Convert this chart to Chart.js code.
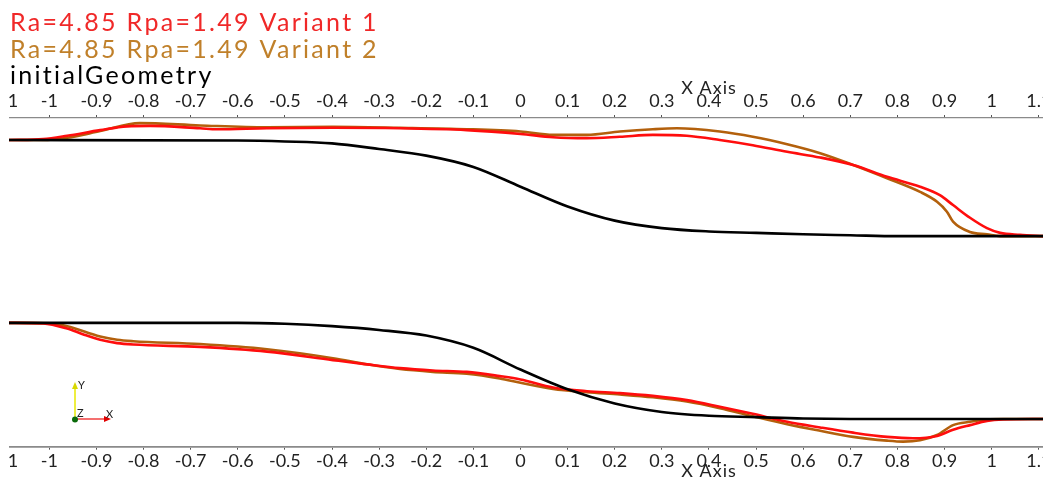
<!DOCTYPE html>
<html>
<head>
<meta charset="utf-8">
<script src="https://cdn.jsdelivr.net/npm/chart.js@4.4.1/dist/chart.umd.min.js"></script>
<style>
  html, body { margin: 0; padding: 0; background: #fff; overflow: hidden; }
  #wrap { position: absolute; left: 9px; top: 0; width: 1034px; height: 485px; }
</style>
</head>
<body>
<div id="wrap"><canvas id="c"></canvas></div>
<script>
// Axis ticks along the channel
const tickValues = [-1.1, -1, -0.9, -0.8, -0.7, -0.6, -0.5, -0.4, -0.3, -0.2, -0.1, 0,
                    0.1, 0.2, 0.3, 0.4, 0.5, 0.6, 0.7, 0.8, 0.9, 1, 1.1];
const tickLabels = ['-1.1', '-1', '-0.9', '-0.8', '-0.7', '-0.6', '-0.5', '-0.4', '-0.3', '-0.2', '-0.1', '0',
                    '0.1', '0.2', '0.3', '0.4', '0.5', '0.6', '0.7', '0.8', '0.9', '1', '1.1'];
const xLimits = [-1.0855, 1.1089];
const yLimits = [-0.0588, 0.6388];

const seriesNames = ['Ra=4.85 Rpa=1.49 Variant 1', 'Ra=4.85 Rpa=1.49 Variant 2', 'initialGeometry'];

// Wall profiles: [x, y]
const initialUpper = [[-1.086,0.592],[-0.6,0.591],[-0.5,0.589],[-0.4,0.585],[-0.3,0.573],[-0.2,0.559],
  [-0.1,0.535],[0,0.493],[0.1,0.451],[0.2,0.421],[0.3,0.405],[0.4,0.398],[0.5,0.395],[0.6,0.392],
  [0.7,0.390],[0.8,0.388],[1.109,0.388]];
const initialLower = [[-1.086,0.204],[-0.6,0.204],[-0.5,0.202],[-0.4,0.197],[-0.3,0.189],[-0.2,0.177],
  [-0.1,0.151],[0,0.105],[0.1,0.063],[0.2,0.033],[0.3,0.015],[0.4,0.007],[0.5,0.004],[0.6,0.001],
  [0.7,0],[1.109,0]];

const variant1Upper = [[-1.086,0.592],[-1.013,0.594],[-0.962,0.601],[-0.892,0.613],[-0.835,0.621],
  [-0.786,0.622],[-0.680,0.617],[-0.644,0.615],[-0.538,0.617],[-0.398,0.618],[-0.256,0.617],
  [-0.114,0.613],[0,0.605],[0.069,0.598],[0.141,0.596],[0.211,0.599],[0.281,0.603],[0.353,0.601],
  [0.423,0.592],[0.493,0.581],[0.566,0.567],[0.636,0.555],[0.706,0.539],[0.778,0.514],[0.848,0.493],
  [0.890,0.475],[0.918,0.454],[0.954,0.427],[0.990,0.405],[1.018,0.395],[1.060,0.391],[1.109,0.388]];
const variant1Lower = [[-1.086,0.204],[-1.013,0.203],[-0.962,0.192],[-0.929,0.180],[-0.892,0.168],
  [-0.856,0.161],[-0.822,0.158],[-0.680,0.153],[-0.538,0.143],[-0.398,0.125],[-0.326,0.116],
  [-0.256,0.108],[-0.186,0.103],[-0.114,0.100],[-0.044,0.091],[0,0.084],[0.069,0.067],[0.141,0.059],
  [0.211,0.055],[0.281,0.049],[0.353,0.040],[0.423,0.026],[0.493,0.011],[0.566,-0.006],[0.636,-0.018],
  [0.706,-0.029],[0.778,-0.038],[0.833,-0.041],[0.884,-0.036],[0.918,-0.023],[0.954,-0.013],
  [0.990,-0.004],[1.024,-0.001],[1.109,0]];

const variant2Upper = [[-1.086,0.592],[-1.013,0.592],[-0.962,0.597],[-0.892,0.611],[-0.808,0.628],
  [-0.680,0.623],[-0.538,0.619],[-0.398,0.620],[-0.256,0.618],[-0.114,0.615],[0,0.610],[0.069,0.603],
  [0.141,0.603],[0.211,0.610],[0.281,0.615],[0.332,0.617],[0.423,0.610],[0.493,0.599],[0.566,0.583],
  [0.636,0.564],[0.706,0.539],[0.778,0.511],[0.848,0.482],[0.884,0.461],[0.905,0.440],[0.918,0.419],
  [0.954,0.397],[0.990,0.392],[1.018,0.388],[1.109,0.388]];
const variant2Lower = [[-1.086,0.204],[-0.998,0.203],[-0.962,0.197],[-0.892,0.175],[-0.856,0.168],
  [-0.822,0.165],[-0.680,0.159],[-0.538,0.148],[-0.398,0.129],[-0.326,0.116],[-0.256,0.106],
  [-0.186,0.100],[-0.114,0.096],[-0.044,0.086],[0,0.077],[0.069,0.064],[0.141,0.057],[0.211,0.052],
  [0.281,0.046],[0.353,0.037],[0.423,0.023],[0.493,0.006],[0.566,-0.011],[0.636,-0.025],[0.706,-0.038],
  [0.778,-0.046],[0.812,-0.048],[0.848,-0.045],[0.884,-0.034],[0.918,-0.013],[0.954,-0.006],
  [0.990,-0.001],[1.024,0],[1.109,0]];

const lineColors = ['#ff0d0d', '#b3600c', '#000000'];
const textColors = ['#f02828', '#c0802a', '#000000'];

function wall(points, color) {
  return {
    data: points.map(([x, y]) => ({ x, y })),
    borderColor: color,
    borderWidth: 2.6,
    pointRadius: 0,
    fill: false,
    showLine: true,
    cubicInterpolationMode: 'monotone',
    xAxisID: 'xBottom',
    yAxisID: 'y'
  };
}

function setTicks(scale) {
  scale.ticks = tickValues.map(v => ({ value: v }));
}

function axis(position, height, pad, borderWidth) {
  return {
    type: 'linear',
    position,
    min: xLimits[0],
    max: xLimits[1],
    afterBuildTicks: setTicks,
    afterFit(scale) {
      scale.height = height;
      scale.paddingLeft = 0;
      scale.paddingRight = 0;
    },
    ticks: {
      autoSkip: false,
      maxRotation: 0,
      minRotation: 0,
      padding: pad,
      color: '#222',
      font: { family: 'Lato', size: 18, lineHeight: 1 },
      callback: (v, i) => tickLabels[i]
    },
    grid: { display: true, drawOnChartArea: false, drawTicks: true, tickLength: 3, color: '#555' },
    border: { display: true, color: '#8a8a8a', width: borderWidth }
  };
}

// Legend text, axis titles and the orientation triad
const overlay = {
  id: 'overlay',
  afterDraw(chart) {
    const ctx = chart.ctx;
    ctx.save();
    ctx.font = '25px Lato';
    ctx.letterSpacing = '2.3px';
    ctx.textAlign = 'left';
    ctx.textBaseline = 'alphabetic';
    const baselines = [31, 58, 84];
    seriesNames.forEach((name, i) => {
      ctx.fillStyle = textColors[i];
      ctx.fillText(name, 1, baselines[i]);
    });

    ctx.font = '18px Lato';
    ctx.letterSpacing = '1px';
    ctx.fillStyle = '#222';
    ctx.textAlign = 'center';
    ctx.textBaseline = 'middle';
    ctx.fillText('X Axis', 700, 88);
    ctx.fillText('X Axis', 700, 471);

    ctx.letterSpacing = '0px';
    const ox = 66, oy = 419;
    ctx.lineWidth = 1.5;
    ctx.strokeStyle = '#e8e800';
    ctx.beginPath(); ctx.moveTo(ox, oy); ctx.lineTo(ox, 386); ctx.stroke();
    ctx.fillStyle = '#d8d800';
    ctx.beginPath(); ctx.moveTo(ox - 3, 389); ctx.lineTo(ox + 3, 389); ctx.lineTo(ox, 382); ctx.closePath(); ctx.fill();
    ctx.strokeStyle = '#f04040';
    ctx.beginPath(); ctx.moveTo(ox, oy); ctx.lineTo(98, oy); ctx.stroke();
    ctx.fillStyle = '#e00000';
    ctx.beginPath(); ctx.moveTo(95, oy - 3); ctx.lineTo(95, oy + 3); ctx.lineTo(102, oy); ctx.closePath(); ctx.fill();
    ctx.fillStyle = '#0a6a0a';
    ctx.beginPath(); ctx.arc(ox, oy + 0.5, 3, 0, Math.PI * 2); ctx.fill();
    ctx.font = '11px Lato';
    ctx.fillStyle = '#222';
    ctx.textAlign = 'left';
    ctx.textBaseline = 'alphabetic';
    ctx.fillText('Y', 69, 389);
    ctx.fillText('Z', 68, 417);
    ctx.fillText('X', 97, 418);
    ctx.restore();
  }
};

new Chart(document.getElementById('c'), {
  type: 'scatter',
  data: {
    datasets: [
      wall(initialUpper, lineColors[2]),
      wall(initialLower, lineColors[2]),
      wall(variant1Upper, lineColors[0]),
      wall(variant1Lower, lineColors[0]),
      wall(variant2Upper, lineColors[1]),
      wall(variant2Lower, lineColors[1])
    ]
  },
  options: {
    responsive: true,
    maintainAspectRatio: false,
    animation: false,
    layout: { padding: 0 },
    plugins: { legend: { display: false }, tooltip: { enabled: false } },
    scales: {
      xTop: axis('top', 118, 4.5, 1.2),
      xBottom: axis('bottom', 38.3, 2.5, 1.8),
      y: { type: 'linear', display: false, min: yLimits[0], max: yLimits[1] }
    }
  },
  plugins: [overlay]
});
</script>
</body>
</html>
